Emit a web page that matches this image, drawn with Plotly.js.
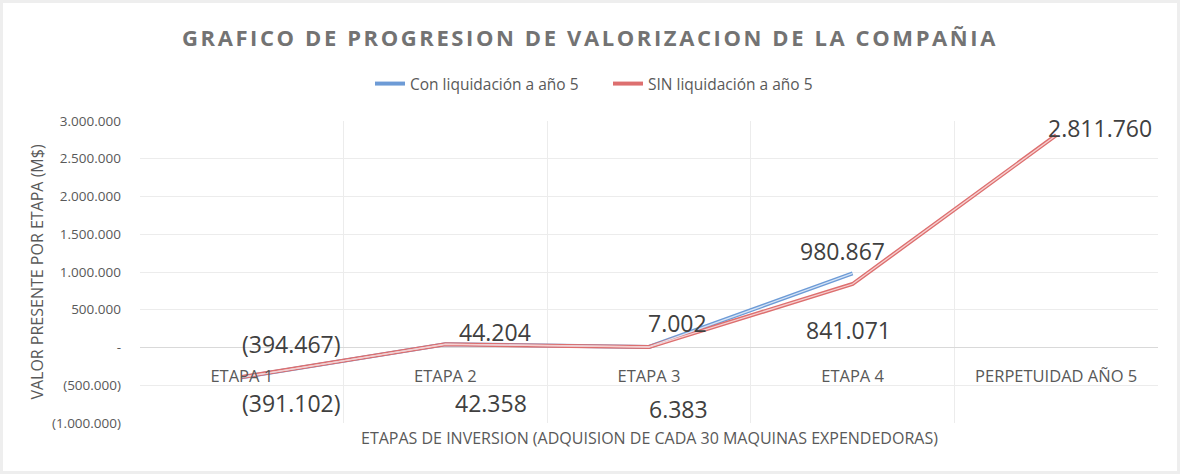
<!DOCTYPE html>
<html><head><meta charset="utf-8">
<script src="https://cdn.plot.ly/plotly-3.0.1.min.js"></script>
<style>
html,body{margin:0;padding:0;background:#eeeeee;width:1180px;height:474px;overflow:hidden;}
#chart{position:absolute;left:3px;top:3px;width:1174px;height:468px;background:#fff;}
.gtitle{letter-spacing:2.6px;}
</style></head><body><div id="chart"></div>
<script>
const categories = ['ETAPA 1','ETAPA 2','ETAPA 3','ETAPA 4','PERPETUIDAD AÑO 5'];
const conLiquidacion = [-394467, 44204, 7002, 980867];
const sinLiquidacion = [-391102, 42358, 6383, 841071, 2811760];
const seriesNames = ['Con liquidación a año 5','SIN liquidación a año 5'];
const yTicks = [-1000000,-500000,0,500000,1000000,1500000,2000000,2500000,3000000];
const chartTitle = 'GRAFICO DE PROGRESION DE VALORIZACION DE LA COMPAÑIA';
const xTitle = 'ETAPAS DE INVERSION (ADQUISION DE CADA 30 MAQUINAS EXPENDEDORAS)';
const yTitle = 'VALOR PRESENTE POR ETAPA (M$)';

function fmt(v){
  if (v === 0) return '-';
  const s = Math.abs(Math.round(v)).toString().replace(/\B(?=(\d{3})+(?!\d))/g, '.');
  return v < 0 ? '(' + s + ')' : s;
}

const blueOuter = '#6d9bd6', blueInner = '#d6e4f6';
const redOuter = '#dd6f6f', redInner = '#f6d0d0';

const xs1 = categories.slice(0, conLiquidacion.length);
const xs2 = categories.slice(0, sinLiquidacion.length);

const traces = [
  {x: xs1, y: conLiquidacion, name: seriesNames[0], type:'scatter', mode:'lines',
   line:{color: blueOuter, width: 4}, hoverinfo:'skip'},
  {x: xs2, y: sinLiquidacion, name: seriesNames[1], type:'scatter', mode:'lines',
   line:{color: redOuter, width: 4}, hoverinfo:'skip'},
  {x: xs1, y: conLiquidacion, showlegend:false, type:'scatter', mode:'lines',
   line:{color: blueInner, width: 1.3}, hoverinfo:'skip'},
  {x: xs2, y: sinLiquidacion, showlegend:false, type:'scatter', mode:'lines',
   line:{color: redInner, width: 1.3}, hoverinfo:'skip'}
];

// label offsets (pixels) relative to each point
const blueOff = [[50,-33],[50,-12],[28,-24],[-10,-22]];
const redOff  = [[50,26],[46,59],[29,62],[-4,46],[44,-7]];
const labelFont = {family:'Open Sans, sans-serif', size:23, color:'#404040'};
const annotations = [];
conLiquidacion.forEach((v,i)=>annotations.push({x: xs1[i], y: v, xref:'x', yref:'y', text: fmt(v),
  showarrow:false, xshift: blueOff[i][0], yshift: -blueOff[i][1], font: labelFont}));
sinLiquidacion.forEach((v,i)=>annotations.push({x: xs2[i], y: v, xref:'x', yref:'y', text: fmt(v),
  showarrow:false, xshift: redOff[i][0], yshift: -redOff[i][1], font: labelFont}));
annotations.push({x:0.5, y:-0.05, xref:'paper', yref:'paper', yanchor:'middle', showarrow:false,
  text: xTitle, font:{family:'Open Sans, sans-serif', size:16, color:'#595959'}});

const layout = {
  width:1174, height:468,
  margin:{l:137, r:19, t:118, b:48, autoexpand:false},
  paper_bgcolor:'#ffffff', plot_bgcolor:'#ffffff',
  font:{family:'Open Sans, sans-serif', color:'#595959'},
  title:{text: chartTitle, x:0.5, xref:'container', xanchor:'center', y: 1 - 35/468, yanchor:'middle',
    automargin:false,
    font:{family:'Open Sans, sans-serif', size:22, color:'#737373', weight:'bold'}},
  showlegend:true,
  legend:{orientation:'h', xref:'paper', x:0.4597, xanchor:'center', y: 1 + 37/302, yanchor:'middle',
    font:{family:'Open Sans, sans-serif', size:15.5, color:'#595959'}, itemwidth:30, traceorder:'normal',
    entrywidth:193, entrywidthmode:'pixels',
    bgcolor:'rgba(0,0,0,0)'},
  xaxis:{type:'category', range:[-0.5, 4.5], anchor:'free', position:0.25, automargin:false,
    tickangle:0, tickson:'boundaries', showgrid:true, gridcolor:'#ececec', gridwidth:1,
    showline:false, zeroline:false, ticks:'', ticklabelstandoff:17,
    tickfont:{family:'Open Sans, sans-serif', size:16.5, color:'#595959'}, fixedrange:true},
  yaxis:{range:[-1000000, 3000000], tickvals: yTicks, ticktext: yTicks.map(fmt), automargin:false,
    showgrid:true, gridcolor:'#ececec', gridwidth:1, zeroline:true, zerolinecolor:'#d9d9d9', zerolinewidth:1,
    showline:false, ticks:'', ticklabelstandoff:18,
    tickfont:{family:'Open Sans, sans-serif', size:13.5, color:'#595959'},
    title:{text: yTitle, standoff: 4, font:{family:'Open Sans, sans-serif', size:16, color:'#595959'}},
    fixedrange:true},
  annotations: annotations
};

Plotly.newPlot('chart', traces, layout, {displayModeBar:false, staticPlot:true});
</script></body></html>
